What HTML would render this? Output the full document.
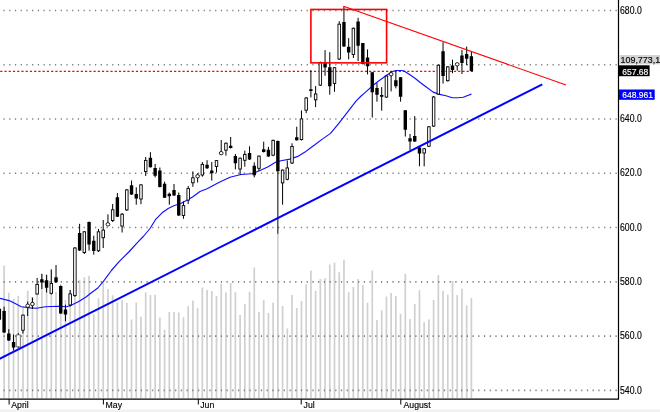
<!DOCTYPE html><html><head><meta charset="utf-8"><style>
html,body{margin:0;padding:0;background:#fff;width:660px;height:412px;overflow:hidden;}
#w{position:relative;width:660px;height:412px;background:#fff;}
svg{position:absolute;left:0;top:0;}
.t{font-family:"Liberation Sans",Arial,sans-serif;}
</style></head><body><div id="w">
<svg width="660" height="412" viewBox="0 0 660 412">
<rect x="0" y="409.5" width="660" height="3" fill="#f2f2f2"/>
<path d="M4.10 265.5V398.0 M8.82 292.7V398.0 M13.54 299.0V398.0 M18.26 295.8V398.0 M22.98 306.0V398.0 M27.70 290.8V398.0 M32.42 297.0V398.0 M37.14 294.0V398.0 M41.86 274.0V398.0 M46.58 274.0V398.0 M51.30 269.6V398.0 M56.02 292.0V398.0 M60.74 284.0V398.0 M65.46 300.0V398.0 M70.18 290.0V398.0 M74.90 297.0V398.0 M79.62 279.7V398.0 M84.34 277.2V398.0 M89.06 275.8V398.0 M93.78 314.3V398.0 M98.50 298.3V398.0 M103.22 282.3V398.0 M107.94 289.0V398.0 M112.66 295.2V398.0 M117.38 302.6V398.0 M122.10 300.3V398.0 M126.82 303.0V398.0 M131.54 319.5V398.0 M136.26 302.5V398.0 M140.98 316.8V398.0 M145.70 292.4V398.0 M150.42 295.0V398.0 M155.14 294.7V398.0 M159.86 317.5V398.0 M164.58 329.7V398.0 M169.30 312.0V398.0 M174.02 312.0V398.0 M178.74 312.4V398.0 M183.46 317.3V398.0 M188.18 306.2V398.0 M192.90 300.4V398.0 M197.62 308.2V398.0 M202.34 287.6V398.0 M207.06 290.1V398.0 M211.78 291.1V398.0 M216.50 295.9V398.0 M221.22 283.7V398.0 M225.94 292.6V398.0 M230.66 282.9V398.0 M235.38 292.2V398.0 M240.10 315.0V398.0 M244.82 304.0V398.0 M249.54 291.7V398.0 M254.26 267.5V398.0 M258.98 312.1V398.0 M263.70 300.1V398.0 M268.42 313.1V398.0 M273.14 302.4V398.0 M277.86 234.0V398.0 M282.58 305.9V398.0 M287.30 328.6V398.0 M292.02 295.0V398.0 M296.74 307.9V398.0 M301.46 300.9V398.0 M306.18 284.6V398.0 M310.90 270.4V398.0 M315.62 290.8V398.0 M320.34 279.1V398.0 M325.06 278.2V398.0 M329.78 264.6V398.0 M334.50 262.6V398.0 M339.22 272.3V398.0 M343.94 259.7V398.0 M348.66 292.3V398.0 M353.38 286.9V398.0 M358.10 279.1V398.0 M362.82 285.0V398.0 M367.54 302.8V398.0 M372.26 270.4V398.0 M376.98 319.9V398.0 M381.70 310.2V398.0 M386.42 296.6V398.0 M391.14 293.1V398.0 M395.86 296.0V398.0 M400.58 313.7V398.0 M405.30 273.7V398.0 M410.02 318.9V398.0 M414.74 304.0V398.0 M419.46 290.2V398.0 M424.18 322.2V398.0 M428.90 319.5V398.0 M433.62 300.1V398.0 M438.34 274.9V398.0 M443.06 290.8V398.0 M447.78 294.7V398.0 M452.50 281.0V398.0 M457.22 295.0V398.0 M461.94 288.8V398.0 M466.66 305.6V398.0 M471.38 297.9V398.0" stroke="#d0d0d0" stroke-width="1.7" fill="none"/>
<path d="M3.50 9.65h1.2v1.6h-1.2zM9.22 9.65h1.2v1.6h-1.2zM14.94 9.65h1.2v1.6h-1.2zM20.66 9.65h1.2v1.6h-1.2zM26.38 9.65h1.2v1.6h-1.2zM32.10 9.65h1.2v1.6h-1.2zM37.82 9.65h1.2v1.6h-1.2zM43.54 9.65h1.2v1.6h-1.2zM49.26 9.65h1.2v1.6h-1.2zM54.98 9.65h1.2v1.6h-1.2zM60.70 9.65h1.2v1.6h-1.2zM66.42 9.65h1.2v1.6h-1.2zM72.14 9.65h1.2v1.6h-1.2zM77.85 9.65h1.2v1.6h-1.2zM83.57 9.65h1.2v1.6h-1.2zM89.29 9.65h1.2v1.6h-1.2zM95.01 9.65h1.2v1.6h-1.2zM100.73 9.65h1.2v1.6h-1.2zM106.45 9.65h1.2v1.6h-1.2zM112.17 9.65h1.2v1.6h-1.2zM117.89 9.65h1.2v1.6h-1.2zM123.61 9.65h1.2v1.6h-1.2zM129.33 9.65h1.2v1.6h-1.2zM135.05 9.65h1.2v1.6h-1.2zM140.77 9.65h1.2v1.6h-1.2zM146.49 9.65h1.2v1.6h-1.2zM152.21 9.65h1.2v1.6h-1.2zM157.93 9.65h1.2v1.6h-1.2zM163.65 9.65h1.2v1.6h-1.2zM169.37 9.65h1.2v1.6h-1.2zM175.09 9.65h1.2v1.6h-1.2zM180.81 9.65h1.2v1.6h-1.2zM186.53 9.65h1.2v1.6h-1.2zM192.25 9.65h1.2v1.6h-1.2zM197.97 9.65h1.2v1.6h-1.2zM203.69 9.65h1.2v1.6h-1.2zM209.41 9.65h1.2v1.6h-1.2zM215.13 9.65h1.2v1.6h-1.2zM220.84 9.65h1.2v1.6h-1.2zM226.56 9.65h1.2v1.6h-1.2zM232.28 9.65h1.2v1.6h-1.2zM238.00 9.65h1.2v1.6h-1.2zM243.72 9.65h1.2v1.6h-1.2zM249.44 9.65h1.2v1.6h-1.2zM255.16 9.65h1.2v1.6h-1.2zM260.88 9.65h1.2v1.6h-1.2zM266.60 9.65h1.2v1.6h-1.2zM272.32 9.65h1.2v1.6h-1.2zM278.04 9.65h1.2v1.6h-1.2zM283.76 9.65h1.2v1.6h-1.2zM289.48 9.65h1.2v1.6h-1.2zM295.20 9.65h1.2v1.6h-1.2zM300.92 9.65h1.2v1.6h-1.2zM306.64 9.65h1.2v1.6h-1.2zM312.36 9.65h1.2v1.6h-1.2zM318.08 9.65h1.2v1.6h-1.2zM323.80 9.65h1.2v1.6h-1.2zM329.52 9.65h1.2v1.6h-1.2zM335.24 9.65h1.2v1.6h-1.2zM340.96 9.65h1.2v1.6h-1.2zM346.68 9.65h1.2v1.6h-1.2zM352.40 9.65h1.2v1.6h-1.2zM358.12 9.65h1.2v1.6h-1.2zM363.83 9.65h1.2v1.6h-1.2zM369.55 9.65h1.2v1.6h-1.2zM375.27 9.65h1.2v1.6h-1.2zM380.99 9.65h1.2v1.6h-1.2zM386.71 9.65h1.2v1.6h-1.2zM392.43 9.65h1.2v1.6h-1.2zM398.15 9.65h1.2v1.6h-1.2zM403.87 9.65h1.2v1.6h-1.2zM409.59 9.65h1.2v1.6h-1.2zM415.31 9.65h1.2v1.6h-1.2zM421.03 9.65h1.2v1.6h-1.2zM426.75 9.65h1.2v1.6h-1.2zM432.47 9.65h1.2v1.6h-1.2zM438.19 9.65h1.2v1.6h-1.2zM443.91 9.65h1.2v1.6h-1.2zM449.63 9.65h1.2v1.6h-1.2zM455.35 9.65h1.2v1.6h-1.2zM461.07 9.65h1.2v1.6h-1.2zM466.79 9.65h1.2v1.6h-1.2zM472.51 9.65h1.2v1.6h-1.2zM478.23 9.65h1.2v1.6h-1.2zM483.95 9.65h1.2v1.6h-1.2zM489.67 9.65h1.2v1.6h-1.2zM495.39 9.65h1.2v1.6h-1.2zM501.11 9.65h1.2v1.6h-1.2zM506.82 9.65h1.2v1.6h-1.2zM512.54 9.65h1.2v1.6h-1.2zM518.26 9.65h1.2v1.6h-1.2zM523.98 9.65h1.2v1.6h-1.2zM529.70 9.65h1.2v1.6h-1.2zM535.42 9.65h1.2v1.6h-1.2zM541.14 9.65h1.2v1.6h-1.2zM546.86 9.65h1.2v1.6h-1.2zM552.58 9.65h1.2v1.6h-1.2zM558.30 9.65h1.2v1.6h-1.2zM564.02 9.65h1.2v1.6h-1.2zM569.74 9.65h1.2v1.6h-1.2zM575.46 9.65h1.2v1.6h-1.2zM581.18 9.65h1.2v1.6h-1.2zM586.90 9.65h1.2v1.6h-1.2zM592.62 9.65h1.2v1.6h-1.2zM598.34 9.65h1.2v1.6h-1.2zM604.06 9.65h1.2v1.6h-1.2zM609.78 9.65h1.2v1.6h-1.2zM615.50 9.65h1.2v1.6h-1.2zM3.50 63.93h1.2v1.6h-1.2zM9.22 63.93h1.2v1.6h-1.2zM14.94 63.93h1.2v1.6h-1.2zM20.66 63.93h1.2v1.6h-1.2zM26.38 63.93h1.2v1.6h-1.2zM32.10 63.93h1.2v1.6h-1.2zM37.82 63.93h1.2v1.6h-1.2zM43.54 63.93h1.2v1.6h-1.2zM49.26 63.93h1.2v1.6h-1.2zM54.98 63.93h1.2v1.6h-1.2zM60.70 63.93h1.2v1.6h-1.2zM66.42 63.93h1.2v1.6h-1.2zM72.14 63.93h1.2v1.6h-1.2zM77.85 63.93h1.2v1.6h-1.2zM83.57 63.93h1.2v1.6h-1.2zM89.29 63.93h1.2v1.6h-1.2zM95.01 63.93h1.2v1.6h-1.2zM100.73 63.93h1.2v1.6h-1.2zM106.45 63.93h1.2v1.6h-1.2zM112.17 63.93h1.2v1.6h-1.2zM117.89 63.93h1.2v1.6h-1.2zM123.61 63.93h1.2v1.6h-1.2zM129.33 63.93h1.2v1.6h-1.2zM135.05 63.93h1.2v1.6h-1.2zM140.77 63.93h1.2v1.6h-1.2zM146.49 63.93h1.2v1.6h-1.2zM152.21 63.93h1.2v1.6h-1.2zM157.93 63.93h1.2v1.6h-1.2zM163.65 63.93h1.2v1.6h-1.2zM169.37 63.93h1.2v1.6h-1.2zM175.09 63.93h1.2v1.6h-1.2zM180.81 63.93h1.2v1.6h-1.2zM186.53 63.93h1.2v1.6h-1.2zM192.25 63.93h1.2v1.6h-1.2zM197.97 63.93h1.2v1.6h-1.2zM203.69 63.93h1.2v1.6h-1.2zM209.41 63.93h1.2v1.6h-1.2zM215.13 63.93h1.2v1.6h-1.2zM220.84 63.93h1.2v1.6h-1.2zM226.56 63.93h1.2v1.6h-1.2zM232.28 63.93h1.2v1.6h-1.2zM238.00 63.93h1.2v1.6h-1.2zM243.72 63.93h1.2v1.6h-1.2zM249.44 63.93h1.2v1.6h-1.2zM255.16 63.93h1.2v1.6h-1.2zM260.88 63.93h1.2v1.6h-1.2zM266.60 63.93h1.2v1.6h-1.2zM272.32 63.93h1.2v1.6h-1.2zM278.04 63.93h1.2v1.6h-1.2zM283.76 63.93h1.2v1.6h-1.2zM289.48 63.93h1.2v1.6h-1.2zM295.20 63.93h1.2v1.6h-1.2zM300.92 63.93h1.2v1.6h-1.2zM306.64 63.93h1.2v1.6h-1.2zM312.36 63.93h1.2v1.6h-1.2zM318.08 63.93h1.2v1.6h-1.2zM323.80 63.93h1.2v1.6h-1.2zM329.52 63.93h1.2v1.6h-1.2zM335.24 63.93h1.2v1.6h-1.2zM340.96 63.93h1.2v1.6h-1.2zM346.68 63.93h1.2v1.6h-1.2zM352.40 63.93h1.2v1.6h-1.2zM358.12 63.93h1.2v1.6h-1.2zM363.83 63.93h1.2v1.6h-1.2zM369.55 63.93h1.2v1.6h-1.2zM375.27 63.93h1.2v1.6h-1.2zM380.99 63.93h1.2v1.6h-1.2zM386.71 63.93h1.2v1.6h-1.2zM392.43 63.93h1.2v1.6h-1.2zM398.15 63.93h1.2v1.6h-1.2zM403.87 63.93h1.2v1.6h-1.2zM409.59 63.93h1.2v1.6h-1.2zM415.31 63.93h1.2v1.6h-1.2zM421.03 63.93h1.2v1.6h-1.2zM426.75 63.93h1.2v1.6h-1.2zM432.47 63.93h1.2v1.6h-1.2zM438.19 63.93h1.2v1.6h-1.2zM443.91 63.93h1.2v1.6h-1.2zM449.63 63.93h1.2v1.6h-1.2zM455.35 63.93h1.2v1.6h-1.2zM461.07 63.93h1.2v1.6h-1.2zM466.79 63.93h1.2v1.6h-1.2zM472.51 63.93h1.2v1.6h-1.2zM478.23 63.93h1.2v1.6h-1.2zM483.95 63.93h1.2v1.6h-1.2zM489.67 63.93h1.2v1.6h-1.2zM495.39 63.93h1.2v1.6h-1.2zM501.11 63.93h1.2v1.6h-1.2zM506.82 63.93h1.2v1.6h-1.2zM512.54 63.93h1.2v1.6h-1.2zM518.26 63.93h1.2v1.6h-1.2zM523.98 63.93h1.2v1.6h-1.2zM529.70 63.93h1.2v1.6h-1.2zM535.42 63.93h1.2v1.6h-1.2zM541.14 63.93h1.2v1.6h-1.2zM546.86 63.93h1.2v1.6h-1.2zM552.58 63.93h1.2v1.6h-1.2zM558.30 63.93h1.2v1.6h-1.2zM564.02 63.93h1.2v1.6h-1.2zM569.74 63.93h1.2v1.6h-1.2zM575.46 63.93h1.2v1.6h-1.2zM581.18 63.93h1.2v1.6h-1.2zM586.90 63.93h1.2v1.6h-1.2zM592.62 63.93h1.2v1.6h-1.2zM598.34 63.93h1.2v1.6h-1.2zM604.06 63.93h1.2v1.6h-1.2zM609.78 63.93h1.2v1.6h-1.2zM615.50 63.93h1.2v1.6h-1.2zM3.50 118.21h1.2v1.6h-1.2zM9.22 118.21h1.2v1.6h-1.2zM14.94 118.21h1.2v1.6h-1.2zM20.66 118.21h1.2v1.6h-1.2zM26.38 118.21h1.2v1.6h-1.2zM32.10 118.21h1.2v1.6h-1.2zM37.82 118.21h1.2v1.6h-1.2zM43.54 118.21h1.2v1.6h-1.2zM49.26 118.21h1.2v1.6h-1.2zM54.98 118.21h1.2v1.6h-1.2zM60.70 118.21h1.2v1.6h-1.2zM66.42 118.21h1.2v1.6h-1.2zM72.14 118.21h1.2v1.6h-1.2zM77.85 118.21h1.2v1.6h-1.2zM83.57 118.21h1.2v1.6h-1.2zM89.29 118.21h1.2v1.6h-1.2zM95.01 118.21h1.2v1.6h-1.2zM100.73 118.21h1.2v1.6h-1.2zM106.45 118.21h1.2v1.6h-1.2zM112.17 118.21h1.2v1.6h-1.2zM117.89 118.21h1.2v1.6h-1.2zM123.61 118.21h1.2v1.6h-1.2zM129.33 118.21h1.2v1.6h-1.2zM135.05 118.21h1.2v1.6h-1.2zM140.77 118.21h1.2v1.6h-1.2zM146.49 118.21h1.2v1.6h-1.2zM152.21 118.21h1.2v1.6h-1.2zM157.93 118.21h1.2v1.6h-1.2zM163.65 118.21h1.2v1.6h-1.2zM169.37 118.21h1.2v1.6h-1.2zM175.09 118.21h1.2v1.6h-1.2zM180.81 118.21h1.2v1.6h-1.2zM186.53 118.21h1.2v1.6h-1.2zM192.25 118.21h1.2v1.6h-1.2zM197.97 118.21h1.2v1.6h-1.2zM203.69 118.21h1.2v1.6h-1.2zM209.41 118.21h1.2v1.6h-1.2zM215.13 118.21h1.2v1.6h-1.2zM220.84 118.21h1.2v1.6h-1.2zM226.56 118.21h1.2v1.6h-1.2zM232.28 118.21h1.2v1.6h-1.2zM238.00 118.21h1.2v1.6h-1.2zM243.72 118.21h1.2v1.6h-1.2zM249.44 118.21h1.2v1.6h-1.2zM255.16 118.21h1.2v1.6h-1.2zM260.88 118.21h1.2v1.6h-1.2zM266.60 118.21h1.2v1.6h-1.2zM272.32 118.21h1.2v1.6h-1.2zM278.04 118.21h1.2v1.6h-1.2zM283.76 118.21h1.2v1.6h-1.2zM289.48 118.21h1.2v1.6h-1.2zM295.20 118.21h1.2v1.6h-1.2zM300.92 118.21h1.2v1.6h-1.2zM306.64 118.21h1.2v1.6h-1.2zM312.36 118.21h1.2v1.6h-1.2zM318.08 118.21h1.2v1.6h-1.2zM323.80 118.21h1.2v1.6h-1.2zM329.52 118.21h1.2v1.6h-1.2zM335.24 118.21h1.2v1.6h-1.2zM340.96 118.21h1.2v1.6h-1.2zM346.68 118.21h1.2v1.6h-1.2zM352.40 118.21h1.2v1.6h-1.2zM358.12 118.21h1.2v1.6h-1.2zM363.83 118.21h1.2v1.6h-1.2zM369.55 118.21h1.2v1.6h-1.2zM375.27 118.21h1.2v1.6h-1.2zM380.99 118.21h1.2v1.6h-1.2zM386.71 118.21h1.2v1.6h-1.2zM392.43 118.21h1.2v1.6h-1.2zM398.15 118.21h1.2v1.6h-1.2zM403.87 118.21h1.2v1.6h-1.2zM409.59 118.21h1.2v1.6h-1.2zM415.31 118.21h1.2v1.6h-1.2zM421.03 118.21h1.2v1.6h-1.2zM426.75 118.21h1.2v1.6h-1.2zM432.47 118.21h1.2v1.6h-1.2zM438.19 118.21h1.2v1.6h-1.2zM443.91 118.21h1.2v1.6h-1.2zM449.63 118.21h1.2v1.6h-1.2zM455.35 118.21h1.2v1.6h-1.2zM461.07 118.21h1.2v1.6h-1.2zM466.79 118.21h1.2v1.6h-1.2zM472.51 118.21h1.2v1.6h-1.2zM478.23 118.21h1.2v1.6h-1.2zM483.95 118.21h1.2v1.6h-1.2zM489.67 118.21h1.2v1.6h-1.2zM495.39 118.21h1.2v1.6h-1.2zM501.11 118.21h1.2v1.6h-1.2zM506.82 118.21h1.2v1.6h-1.2zM512.54 118.21h1.2v1.6h-1.2zM518.26 118.21h1.2v1.6h-1.2zM523.98 118.21h1.2v1.6h-1.2zM529.70 118.21h1.2v1.6h-1.2zM535.42 118.21h1.2v1.6h-1.2zM541.14 118.21h1.2v1.6h-1.2zM546.86 118.21h1.2v1.6h-1.2zM552.58 118.21h1.2v1.6h-1.2zM558.30 118.21h1.2v1.6h-1.2zM564.02 118.21h1.2v1.6h-1.2zM569.74 118.21h1.2v1.6h-1.2zM575.46 118.21h1.2v1.6h-1.2zM581.18 118.21h1.2v1.6h-1.2zM586.90 118.21h1.2v1.6h-1.2zM592.62 118.21h1.2v1.6h-1.2zM598.34 118.21h1.2v1.6h-1.2zM604.06 118.21h1.2v1.6h-1.2zM609.78 118.21h1.2v1.6h-1.2zM615.50 118.21h1.2v1.6h-1.2zM3.50 172.49h1.2v1.6h-1.2zM9.22 172.49h1.2v1.6h-1.2zM14.94 172.49h1.2v1.6h-1.2zM20.66 172.49h1.2v1.6h-1.2zM26.38 172.49h1.2v1.6h-1.2zM32.10 172.49h1.2v1.6h-1.2zM37.82 172.49h1.2v1.6h-1.2zM43.54 172.49h1.2v1.6h-1.2zM49.26 172.49h1.2v1.6h-1.2zM54.98 172.49h1.2v1.6h-1.2zM60.70 172.49h1.2v1.6h-1.2zM66.42 172.49h1.2v1.6h-1.2zM72.14 172.49h1.2v1.6h-1.2zM77.85 172.49h1.2v1.6h-1.2zM83.57 172.49h1.2v1.6h-1.2zM89.29 172.49h1.2v1.6h-1.2zM95.01 172.49h1.2v1.6h-1.2zM100.73 172.49h1.2v1.6h-1.2zM106.45 172.49h1.2v1.6h-1.2zM112.17 172.49h1.2v1.6h-1.2zM117.89 172.49h1.2v1.6h-1.2zM123.61 172.49h1.2v1.6h-1.2zM129.33 172.49h1.2v1.6h-1.2zM135.05 172.49h1.2v1.6h-1.2zM140.77 172.49h1.2v1.6h-1.2zM146.49 172.49h1.2v1.6h-1.2zM152.21 172.49h1.2v1.6h-1.2zM157.93 172.49h1.2v1.6h-1.2zM163.65 172.49h1.2v1.6h-1.2zM169.37 172.49h1.2v1.6h-1.2zM175.09 172.49h1.2v1.6h-1.2zM180.81 172.49h1.2v1.6h-1.2zM186.53 172.49h1.2v1.6h-1.2zM192.25 172.49h1.2v1.6h-1.2zM197.97 172.49h1.2v1.6h-1.2zM203.69 172.49h1.2v1.6h-1.2zM209.41 172.49h1.2v1.6h-1.2zM215.13 172.49h1.2v1.6h-1.2zM220.84 172.49h1.2v1.6h-1.2zM226.56 172.49h1.2v1.6h-1.2zM232.28 172.49h1.2v1.6h-1.2zM238.00 172.49h1.2v1.6h-1.2zM243.72 172.49h1.2v1.6h-1.2zM249.44 172.49h1.2v1.6h-1.2zM255.16 172.49h1.2v1.6h-1.2zM260.88 172.49h1.2v1.6h-1.2zM266.60 172.49h1.2v1.6h-1.2zM272.32 172.49h1.2v1.6h-1.2zM278.04 172.49h1.2v1.6h-1.2zM283.76 172.49h1.2v1.6h-1.2zM289.48 172.49h1.2v1.6h-1.2zM295.20 172.49h1.2v1.6h-1.2zM300.92 172.49h1.2v1.6h-1.2zM306.64 172.49h1.2v1.6h-1.2zM312.36 172.49h1.2v1.6h-1.2zM318.08 172.49h1.2v1.6h-1.2zM323.80 172.49h1.2v1.6h-1.2zM329.52 172.49h1.2v1.6h-1.2zM335.24 172.49h1.2v1.6h-1.2zM340.96 172.49h1.2v1.6h-1.2zM346.68 172.49h1.2v1.6h-1.2zM352.40 172.49h1.2v1.6h-1.2zM358.12 172.49h1.2v1.6h-1.2zM363.83 172.49h1.2v1.6h-1.2zM369.55 172.49h1.2v1.6h-1.2zM375.27 172.49h1.2v1.6h-1.2zM380.99 172.49h1.2v1.6h-1.2zM386.71 172.49h1.2v1.6h-1.2zM392.43 172.49h1.2v1.6h-1.2zM398.15 172.49h1.2v1.6h-1.2zM403.87 172.49h1.2v1.6h-1.2zM409.59 172.49h1.2v1.6h-1.2zM415.31 172.49h1.2v1.6h-1.2zM421.03 172.49h1.2v1.6h-1.2zM426.75 172.49h1.2v1.6h-1.2zM432.47 172.49h1.2v1.6h-1.2zM438.19 172.49h1.2v1.6h-1.2zM443.91 172.49h1.2v1.6h-1.2zM449.63 172.49h1.2v1.6h-1.2zM455.35 172.49h1.2v1.6h-1.2zM461.07 172.49h1.2v1.6h-1.2zM466.79 172.49h1.2v1.6h-1.2zM472.51 172.49h1.2v1.6h-1.2zM478.23 172.49h1.2v1.6h-1.2zM483.95 172.49h1.2v1.6h-1.2zM489.67 172.49h1.2v1.6h-1.2zM495.39 172.49h1.2v1.6h-1.2zM501.11 172.49h1.2v1.6h-1.2zM506.82 172.49h1.2v1.6h-1.2zM512.54 172.49h1.2v1.6h-1.2zM518.26 172.49h1.2v1.6h-1.2zM523.98 172.49h1.2v1.6h-1.2zM529.70 172.49h1.2v1.6h-1.2zM535.42 172.49h1.2v1.6h-1.2zM541.14 172.49h1.2v1.6h-1.2zM546.86 172.49h1.2v1.6h-1.2zM552.58 172.49h1.2v1.6h-1.2zM558.30 172.49h1.2v1.6h-1.2zM564.02 172.49h1.2v1.6h-1.2zM569.74 172.49h1.2v1.6h-1.2zM575.46 172.49h1.2v1.6h-1.2zM581.18 172.49h1.2v1.6h-1.2zM586.90 172.49h1.2v1.6h-1.2zM592.62 172.49h1.2v1.6h-1.2zM598.34 172.49h1.2v1.6h-1.2zM604.06 172.49h1.2v1.6h-1.2zM609.78 172.49h1.2v1.6h-1.2zM615.50 172.49h1.2v1.6h-1.2zM3.50 226.77h1.2v1.6h-1.2zM9.22 226.77h1.2v1.6h-1.2zM14.94 226.77h1.2v1.6h-1.2zM20.66 226.77h1.2v1.6h-1.2zM26.38 226.77h1.2v1.6h-1.2zM32.10 226.77h1.2v1.6h-1.2zM37.82 226.77h1.2v1.6h-1.2zM43.54 226.77h1.2v1.6h-1.2zM49.26 226.77h1.2v1.6h-1.2zM54.98 226.77h1.2v1.6h-1.2zM60.70 226.77h1.2v1.6h-1.2zM66.42 226.77h1.2v1.6h-1.2zM72.14 226.77h1.2v1.6h-1.2zM77.85 226.77h1.2v1.6h-1.2zM83.57 226.77h1.2v1.6h-1.2zM89.29 226.77h1.2v1.6h-1.2zM95.01 226.77h1.2v1.6h-1.2zM100.73 226.77h1.2v1.6h-1.2zM106.45 226.77h1.2v1.6h-1.2zM112.17 226.77h1.2v1.6h-1.2zM117.89 226.77h1.2v1.6h-1.2zM123.61 226.77h1.2v1.6h-1.2zM129.33 226.77h1.2v1.6h-1.2zM135.05 226.77h1.2v1.6h-1.2zM140.77 226.77h1.2v1.6h-1.2zM146.49 226.77h1.2v1.6h-1.2zM152.21 226.77h1.2v1.6h-1.2zM157.93 226.77h1.2v1.6h-1.2zM163.65 226.77h1.2v1.6h-1.2zM169.37 226.77h1.2v1.6h-1.2zM175.09 226.77h1.2v1.6h-1.2zM180.81 226.77h1.2v1.6h-1.2zM186.53 226.77h1.2v1.6h-1.2zM192.25 226.77h1.2v1.6h-1.2zM197.97 226.77h1.2v1.6h-1.2zM203.69 226.77h1.2v1.6h-1.2zM209.41 226.77h1.2v1.6h-1.2zM215.13 226.77h1.2v1.6h-1.2zM220.84 226.77h1.2v1.6h-1.2zM226.56 226.77h1.2v1.6h-1.2zM232.28 226.77h1.2v1.6h-1.2zM238.00 226.77h1.2v1.6h-1.2zM243.72 226.77h1.2v1.6h-1.2zM249.44 226.77h1.2v1.6h-1.2zM255.16 226.77h1.2v1.6h-1.2zM260.88 226.77h1.2v1.6h-1.2zM266.60 226.77h1.2v1.6h-1.2zM272.32 226.77h1.2v1.6h-1.2zM278.04 226.77h1.2v1.6h-1.2zM283.76 226.77h1.2v1.6h-1.2zM289.48 226.77h1.2v1.6h-1.2zM295.20 226.77h1.2v1.6h-1.2zM300.92 226.77h1.2v1.6h-1.2zM306.64 226.77h1.2v1.6h-1.2zM312.36 226.77h1.2v1.6h-1.2zM318.08 226.77h1.2v1.6h-1.2zM323.80 226.77h1.2v1.6h-1.2zM329.52 226.77h1.2v1.6h-1.2zM335.24 226.77h1.2v1.6h-1.2zM340.96 226.77h1.2v1.6h-1.2zM346.68 226.77h1.2v1.6h-1.2zM352.40 226.77h1.2v1.6h-1.2zM358.12 226.77h1.2v1.6h-1.2zM363.83 226.77h1.2v1.6h-1.2zM369.55 226.77h1.2v1.6h-1.2zM375.27 226.77h1.2v1.6h-1.2zM380.99 226.77h1.2v1.6h-1.2zM386.71 226.77h1.2v1.6h-1.2zM392.43 226.77h1.2v1.6h-1.2zM398.15 226.77h1.2v1.6h-1.2zM403.87 226.77h1.2v1.6h-1.2zM409.59 226.77h1.2v1.6h-1.2zM415.31 226.77h1.2v1.6h-1.2zM421.03 226.77h1.2v1.6h-1.2zM426.75 226.77h1.2v1.6h-1.2zM432.47 226.77h1.2v1.6h-1.2zM438.19 226.77h1.2v1.6h-1.2zM443.91 226.77h1.2v1.6h-1.2zM449.63 226.77h1.2v1.6h-1.2zM455.35 226.77h1.2v1.6h-1.2zM461.07 226.77h1.2v1.6h-1.2zM466.79 226.77h1.2v1.6h-1.2zM472.51 226.77h1.2v1.6h-1.2zM478.23 226.77h1.2v1.6h-1.2zM483.95 226.77h1.2v1.6h-1.2zM489.67 226.77h1.2v1.6h-1.2zM495.39 226.77h1.2v1.6h-1.2zM501.11 226.77h1.2v1.6h-1.2zM506.82 226.77h1.2v1.6h-1.2zM512.54 226.77h1.2v1.6h-1.2zM518.26 226.77h1.2v1.6h-1.2zM523.98 226.77h1.2v1.6h-1.2zM529.70 226.77h1.2v1.6h-1.2zM535.42 226.77h1.2v1.6h-1.2zM541.14 226.77h1.2v1.6h-1.2zM546.86 226.77h1.2v1.6h-1.2zM552.58 226.77h1.2v1.6h-1.2zM558.30 226.77h1.2v1.6h-1.2zM564.02 226.77h1.2v1.6h-1.2zM569.74 226.77h1.2v1.6h-1.2zM575.46 226.77h1.2v1.6h-1.2zM581.18 226.77h1.2v1.6h-1.2zM586.90 226.77h1.2v1.6h-1.2zM592.62 226.77h1.2v1.6h-1.2zM598.34 226.77h1.2v1.6h-1.2zM604.06 226.77h1.2v1.6h-1.2zM609.78 226.77h1.2v1.6h-1.2zM615.50 226.77h1.2v1.6h-1.2zM3.50 281.05h1.2v1.6h-1.2zM9.22 281.05h1.2v1.6h-1.2zM14.94 281.05h1.2v1.6h-1.2zM20.66 281.05h1.2v1.6h-1.2zM26.38 281.05h1.2v1.6h-1.2zM32.10 281.05h1.2v1.6h-1.2zM37.82 281.05h1.2v1.6h-1.2zM43.54 281.05h1.2v1.6h-1.2zM49.26 281.05h1.2v1.6h-1.2zM54.98 281.05h1.2v1.6h-1.2zM60.70 281.05h1.2v1.6h-1.2zM66.42 281.05h1.2v1.6h-1.2zM72.14 281.05h1.2v1.6h-1.2zM77.85 281.05h1.2v1.6h-1.2zM83.57 281.05h1.2v1.6h-1.2zM89.29 281.05h1.2v1.6h-1.2zM95.01 281.05h1.2v1.6h-1.2zM100.73 281.05h1.2v1.6h-1.2zM106.45 281.05h1.2v1.6h-1.2zM112.17 281.05h1.2v1.6h-1.2zM117.89 281.05h1.2v1.6h-1.2zM123.61 281.05h1.2v1.6h-1.2zM129.33 281.05h1.2v1.6h-1.2zM135.05 281.05h1.2v1.6h-1.2zM140.77 281.05h1.2v1.6h-1.2zM146.49 281.05h1.2v1.6h-1.2zM152.21 281.05h1.2v1.6h-1.2zM157.93 281.05h1.2v1.6h-1.2zM163.65 281.05h1.2v1.6h-1.2zM169.37 281.05h1.2v1.6h-1.2zM175.09 281.05h1.2v1.6h-1.2zM180.81 281.05h1.2v1.6h-1.2zM186.53 281.05h1.2v1.6h-1.2zM192.25 281.05h1.2v1.6h-1.2zM197.97 281.05h1.2v1.6h-1.2zM203.69 281.05h1.2v1.6h-1.2zM209.41 281.05h1.2v1.6h-1.2zM215.13 281.05h1.2v1.6h-1.2zM220.84 281.05h1.2v1.6h-1.2zM226.56 281.05h1.2v1.6h-1.2zM232.28 281.05h1.2v1.6h-1.2zM238.00 281.05h1.2v1.6h-1.2zM243.72 281.05h1.2v1.6h-1.2zM249.44 281.05h1.2v1.6h-1.2zM255.16 281.05h1.2v1.6h-1.2zM260.88 281.05h1.2v1.6h-1.2zM266.60 281.05h1.2v1.6h-1.2zM272.32 281.05h1.2v1.6h-1.2zM278.04 281.05h1.2v1.6h-1.2zM283.76 281.05h1.2v1.6h-1.2zM289.48 281.05h1.2v1.6h-1.2zM295.20 281.05h1.2v1.6h-1.2zM300.92 281.05h1.2v1.6h-1.2zM306.64 281.05h1.2v1.6h-1.2zM312.36 281.05h1.2v1.6h-1.2zM318.08 281.05h1.2v1.6h-1.2zM323.80 281.05h1.2v1.6h-1.2zM329.52 281.05h1.2v1.6h-1.2zM335.24 281.05h1.2v1.6h-1.2zM340.96 281.05h1.2v1.6h-1.2zM346.68 281.05h1.2v1.6h-1.2zM352.40 281.05h1.2v1.6h-1.2zM358.12 281.05h1.2v1.6h-1.2zM363.83 281.05h1.2v1.6h-1.2zM369.55 281.05h1.2v1.6h-1.2zM375.27 281.05h1.2v1.6h-1.2zM380.99 281.05h1.2v1.6h-1.2zM386.71 281.05h1.2v1.6h-1.2zM392.43 281.05h1.2v1.6h-1.2zM398.15 281.05h1.2v1.6h-1.2zM403.87 281.05h1.2v1.6h-1.2zM409.59 281.05h1.2v1.6h-1.2zM415.31 281.05h1.2v1.6h-1.2zM421.03 281.05h1.2v1.6h-1.2zM426.75 281.05h1.2v1.6h-1.2zM432.47 281.05h1.2v1.6h-1.2zM438.19 281.05h1.2v1.6h-1.2zM443.91 281.05h1.2v1.6h-1.2zM449.63 281.05h1.2v1.6h-1.2zM455.35 281.05h1.2v1.6h-1.2zM461.07 281.05h1.2v1.6h-1.2zM466.79 281.05h1.2v1.6h-1.2zM472.51 281.05h1.2v1.6h-1.2zM478.23 281.05h1.2v1.6h-1.2zM483.95 281.05h1.2v1.6h-1.2zM489.67 281.05h1.2v1.6h-1.2zM495.39 281.05h1.2v1.6h-1.2zM501.11 281.05h1.2v1.6h-1.2zM506.82 281.05h1.2v1.6h-1.2zM512.54 281.05h1.2v1.6h-1.2zM518.26 281.05h1.2v1.6h-1.2zM523.98 281.05h1.2v1.6h-1.2zM529.70 281.05h1.2v1.6h-1.2zM535.42 281.05h1.2v1.6h-1.2zM541.14 281.05h1.2v1.6h-1.2zM546.86 281.05h1.2v1.6h-1.2zM552.58 281.05h1.2v1.6h-1.2zM558.30 281.05h1.2v1.6h-1.2zM564.02 281.05h1.2v1.6h-1.2zM569.74 281.05h1.2v1.6h-1.2zM575.46 281.05h1.2v1.6h-1.2zM581.18 281.05h1.2v1.6h-1.2zM586.90 281.05h1.2v1.6h-1.2zM592.62 281.05h1.2v1.6h-1.2zM598.34 281.05h1.2v1.6h-1.2zM604.06 281.05h1.2v1.6h-1.2zM609.78 281.05h1.2v1.6h-1.2zM615.50 281.05h1.2v1.6h-1.2zM3.50 335.33h1.2v1.6h-1.2zM9.22 335.33h1.2v1.6h-1.2zM14.94 335.33h1.2v1.6h-1.2zM20.66 335.33h1.2v1.6h-1.2zM26.38 335.33h1.2v1.6h-1.2zM32.10 335.33h1.2v1.6h-1.2zM37.82 335.33h1.2v1.6h-1.2zM43.54 335.33h1.2v1.6h-1.2zM49.26 335.33h1.2v1.6h-1.2zM54.98 335.33h1.2v1.6h-1.2zM60.70 335.33h1.2v1.6h-1.2zM66.42 335.33h1.2v1.6h-1.2zM72.14 335.33h1.2v1.6h-1.2zM77.85 335.33h1.2v1.6h-1.2zM83.57 335.33h1.2v1.6h-1.2zM89.29 335.33h1.2v1.6h-1.2zM95.01 335.33h1.2v1.6h-1.2zM100.73 335.33h1.2v1.6h-1.2zM106.45 335.33h1.2v1.6h-1.2zM112.17 335.33h1.2v1.6h-1.2zM117.89 335.33h1.2v1.6h-1.2zM123.61 335.33h1.2v1.6h-1.2zM129.33 335.33h1.2v1.6h-1.2zM135.05 335.33h1.2v1.6h-1.2zM140.77 335.33h1.2v1.6h-1.2zM146.49 335.33h1.2v1.6h-1.2zM152.21 335.33h1.2v1.6h-1.2zM157.93 335.33h1.2v1.6h-1.2zM163.65 335.33h1.2v1.6h-1.2zM169.37 335.33h1.2v1.6h-1.2zM175.09 335.33h1.2v1.6h-1.2zM180.81 335.33h1.2v1.6h-1.2zM186.53 335.33h1.2v1.6h-1.2zM192.25 335.33h1.2v1.6h-1.2zM197.97 335.33h1.2v1.6h-1.2zM203.69 335.33h1.2v1.6h-1.2zM209.41 335.33h1.2v1.6h-1.2zM215.13 335.33h1.2v1.6h-1.2zM220.84 335.33h1.2v1.6h-1.2zM226.56 335.33h1.2v1.6h-1.2zM232.28 335.33h1.2v1.6h-1.2zM238.00 335.33h1.2v1.6h-1.2zM243.72 335.33h1.2v1.6h-1.2zM249.44 335.33h1.2v1.6h-1.2zM255.16 335.33h1.2v1.6h-1.2zM260.88 335.33h1.2v1.6h-1.2zM266.60 335.33h1.2v1.6h-1.2zM272.32 335.33h1.2v1.6h-1.2zM278.04 335.33h1.2v1.6h-1.2zM283.76 335.33h1.2v1.6h-1.2zM289.48 335.33h1.2v1.6h-1.2zM295.20 335.33h1.2v1.6h-1.2zM300.92 335.33h1.2v1.6h-1.2zM306.64 335.33h1.2v1.6h-1.2zM312.36 335.33h1.2v1.6h-1.2zM318.08 335.33h1.2v1.6h-1.2zM323.80 335.33h1.2v1.6h-1.2zM329.52 335.33h1.2v1.6h-1.2zM335.24 335.33h1.2v1.6h-1.2zM340.96 335.33h1.2v1.6h-1.2zM346.68 335.33h1.2v1.6h-1.2zM352.40 335.33h1.2v1.6h-1.2zM358.12 335.33h1.2v1.6h-1.2zM363.83 335.33h1.2v1.6h-1.2zM369.55 335.33h1.2v1.6h-1.2zM375.27 335.33h1.2v1.6h-1.2zM380.99 335.33h1.2v1.6h-1.2zM386.71 335.33h1.2v1.6h-1.2zM392.43 335.33h1.2v1.6h-1.2zM398.15 335.33h1.2v1.6h-1.2zM403.87 335.33h1.2v1.6h-1.2zM409.59 335.33h1.2v1.6h-1.2zM415.31 335.33h1.2v1.6h-1.2zM421.03 335.33h1.2v1.6h-1.2zM426.75 335.33h1.2v1.6h-1.2zM432.47 335.33h1.2v1.6h-1.2zM438.19 335.33h1.2v1.6h-1.2zM443.91 335.33h1.2v1.6h-1.2zM449.63 335.33h1.2v1.6h-1.2zM455.35 335.33h1.2v1.6h-1.2zM461.07 335.33h1.2v1.6h-1.2zM466.79 335.33h1.2v1.6h-1.2zM472.51 335.33h1.2v1.6h-1.2zM478.23 335.33h1.2v1.6h-1.2zM483.95 335.33h1.2v1.6h-1.2zM489.67 335.33h1.2v1.6h-1.2zM495.39 335.33h1.2v1.6h-1.2zM501.11 335.33h1.2v1.6h-1.2zM506.82 335.33h1.2v1.6h-1.2zM512.54 335.33h1.2v1.6h-1.2zM518.26 335.33h1.2v1.6h-1.2zM523.98 335.33h1.2v1.6h-1.2zM529.70 335.33h1.2v1.6h-1.2zM535.42 335.33h1.2v1.6h-1.2zM541.14 335.33h1.2v1.6h-1.2zM546.86 335.33h1.2v1.6h-1.2zM552.58 335.33h1.2v1.6h-1.2zM558.30 335.33h1.2v1.6h-1.2zM564.02 335.33h1.2v1.6h-1.2zM569.74 335.33h1.2v1.6h-1.2zM575.46 335.33h1.2v1.6h-1.2zM581.18 335.33h1.2v1.6h-1.2zM586.90 335.33h1.2v1.6h-1.2zM592.62 335.33h1.2v1.6h-1.2zM598.34 335.33h1.2v1.6h-1.2zM604.06 335.33h1.2v1.6h-1.2zM609.78 335.33h1.2v1.6h-1.2zM615.50 335.33h1.2v1.6h-1.2zM3.50 389.61h1.2v1.6h-1.2zM9.22 389.61h1.2v1.6h-1.2zM14.94 389.61h1.2v1.6h-1.2zM20.66 389.61h1.2v1.6h-1.2zM26.38 389.61h1.2v1.6h-1.2zM32.10 389.61h1.2v1.6h-1.2zM37.82 389.61h1.2v1.6h-1.2zM43.54 389.61h1.2v1.6h-1.2zM49.26 389.61h1.2v1.6h-1.2zM54.98 389.61h1.2v1.6h-1.2zM60.70 389.61h1.2v1.6h-1.2zM66.42 389.61h1.2v1.6h-1.2zM72.14 389.61h1.2v1.6h-1.2zM77.85 389.61h1.2v1.6h-1.2zM83.57 389.61h1.2v1.6h-1.2zM89.29 389.61h1.2v1.6h-1.2zM95.01 389.61h1.2v1.6h-1.2zM100.73 389.61h1.2v1.6h-1.2zM106.45 389.61h1.2v1.6h-1.2zM112.17 389.61h1.2v1.6h-1.2zM117.89 389.61h1.2v1.6h-1.2zM123.61 389.61h1.2v1.6h-1.2zM129.33 389.61h1.2v1.6h-1.2zM135.05 389.61h1.2v1.6h-1.2zM140.77 389.61h1.2v1.6h-1.2zM146.49 389.61h1.2v1.6h-1.2zM152.21 389.61h1.2v1.6h-1.2zM157.93 389.61h1.2v1.6h-1.2zM163.65 389.61h1.2v1.6h-1.2zM169.37 389.61h1.2v1.6h-1.2zM175.09 389.61h1.2v1.6h-1.2zM180.81 389.61h1.2v1.6h-1.2zM186.53 389.61h1.2v1.6h-1.2zM192.25 389.61h1.2v1.6h-1.2zM197.97 389.61h1.2v1.6h-1.2zM203.69 389.61h1.2v1.6h-1.2zM209.41 389.61h1.2v1.6h-1.2zM215.13 389.61h1.2v1.6h-1.2zM220.84 389.61h1.2v1.6h-1.2zM226.56 389.61h1.2v1.6h-1.2zM232.28 389.61h1.2v1.6h-1.2zM238.00 389.61h1.2v1.6h-1.2zM243.72 389.61h1.2v1.6h-1.2zM249.44 389.61h1.2v1.6h-1.2zM255.16 389.61h1.2v1.6h-1.2zM260.88 389.61h1.2v1.6h-1.2zM266.60 389.61h1.2v1.6h-1.2zM272.32 389.61h1.2v1.6h-1.2zM278.04 389.61h1.2v1.6h-1.2zM283.76 389.61h1.2v1.6h-1.2zM289.48 389.61h1.2v1.6h-1.2zM295.20 389.61h1.2v1.6h-1.2zM300.92 389.61h1.2v1.6h-1.2zM306.64 389.61h1.2v1.6h-1.2zM312.36 389.61h1.2v1.6h-1.2zM318.08 389.61h1.2v1.6h-1.2zM323.80 389.61h1.2v1.6h-1.2zM329.52 389.61h1.2v1.6h-1.2zM335.24 389.61h1.2v1.6h-1.2zM340.96 389.61h1.2v1.6h-1.2zM346.68 389.61h1.2v1.6h-1.2zM352.40 389.61h1.2v1.6h-1.2zM358.12 389.61h1.2v1.6h-1.2zM363.83 389.61h1.2v1.6h-1.2zM369.55 389.61h1.2v1.6h-1.2zM375.27 389.61h1.2v1.6h-1.2zM380.99 389.61h1.2v1.6h-1.2zM386.71 389.61h1.2v1.6h-1.2zM392.43 389.61h1.2v1.6h-1.2zM398.15 389.61h1.2v1.6h-1.2zM403.87 389.61h1.2v1.6h-1.2zM409.59 389.61h1.2v1.6h-1.2zM415.31 389.61h1.2v1.6h-1.2zM421.03 389.61h1.2v1.6h-1.2zM426.75 389.61h1.2v1.6h-1.2zM432.47 389.61h1.2v1.6h-1.2zM438.19 389.61h1.2v1.6h-1.2zM443.91 389.61h1.2v1.6h-1.2zM449.63 389.61h1.2v1.6h-1.2zM455.35 389.61h1.2v1.6h-1.2zM461.07 389.61h1.2v1.6h-1.2zM466.79 389.61h1.2v1.6h-1.2zM472.51 389.61h1.2v1.6h-1.2zM478.23 389.61h1.2v1.6h-1.2zM483.95 389.61h1.2v1.6h-1.2zM489.67 389.61h1.2v1.6h-1.2zM495.39 389.61h1.2v1.6h-1.2zM501.11 389.61h1.2v1.6h-1.2zM506.82 389.61h1.2v1.6h-1.2zM512.54 389.61h1.2v1.6h-1.2zM518.26 389.61h1.2v1.6h-1.2zM523.98 389.61h1.2v1.6h-1.2zM529.70 389.61h1.2v1.6h-1.2zM535.42 389.61h1.2v1.6h-1.2zM541.14 389.61h1.2v1.6h-1.2zM546.86 389.61h1.2v1.6h-1.2zM552.58 389.61h1.2v1.6h-1.2zM558.30 389.61h1.2v1.6h-1.2zM564.02 389.61h1.2v1.6h-1.2zM569.74 389.61h1.2v1.6h-1.2zM575.46 389.61h1.2v1.6h-1.2zM581.18 389.61h1.2v1.6h-1.2zM586.90 389.61h1.2v1.6h-1.2zM592.62 389.61h1.2v1.6h-1.2zM598.34 389.61h1.2v1.6h-1.2zM604.06 389.61h1.2v1.6h-1.2zM609.78 389.61h1.2v1.6h-1.2zM615.50 389.61h1.2v1.6h-1.2z" fill="#7a7a7a"/>
<path d="M0.20 70.7h2.2v1.3h-2.2zM4.44 70.7h2.2v1.3h-2.2zM8.68 70.7h2.2v1.3h-2.2zM12.92 70.7h2.2v1.3h-2.2zM17.16 70.7h2.2v1.3h-2.2zM21.40 70.7h2.2v1.3h-2.2zM25.64 70.7h2.2v1.3h-2.2zM29.88 70.7h2.2v1.3h-2.2zM34.12 70.7h2.2v1.3h-2.2zM38.36 70.7h2.2v1.3h-2.2zM42.60 70.7h2.2v1.3h-2.2zM46.84 70.7h2.2v1.3h-2.2zM51.08 70.7h2.2v1.3h-2.2zM55.32 70.7h2.2v1.3h-2.2zM59.56 70.7h2.2v1.3h-2.2zM63.80 70.7h2.2v1.3h-2.2zM68.04 70.7h2.2v1.3h-2.2zM72.28 70.7h2.2v1.3h-2.2zM76.52 70.7h2.2v1.3h-2.2zM80.76 70.7h2.2v1.3h-2.2zM85.00 70.7h2.2v1.3h-2.2zM89.24 70.7h2.2v1.3h-2.2zM93.48 70.7h2.2v1.3h-2.2zM97.72 70.7h2.2v1.3h-2.2zM101.96 70.7h2.2v1.3h-2.2zM106.20 70.7h2.2v1.3h-2.2zM110.44 70.7h2.2v1.3h-2.2zM114.68 70.7h2.2v1.3h-2.2zM118.92 70.7h2.2v1.3h-2.2zM123.16 70.7h2.2v1.3h-2.2zM127.40 70.7h2.2v1.3h-2.2zM131.64 70.7h2.2v1.3h-2.2zM135.88 70.7h2.2v1.3h-2.2zM140.12 70.7h2.2v1.3h-2.2zM144.36 70.7h2.2v1.3h-2.2zM148.60 70.7h2.2v1.3h-2.2zM152.84 70.7h2.2v1.3h-2.2zM157.08 70.7h2.2v1.3h-2.2zM161.32 70.7h2.2v1.3h-2.2zM165.56 70.7h2.2v1.3h-2.2zM169.80 70.7h2.2v1.3h-2.2zM174.04 70.7h2.2v1.3h-2.2zM178.28 70.7h2.2v1.3h-2.2zM182.52 70.7h2.2v1.3h-2.2zM186.76 70.7h2.2v1.3h-2.2zM191.00 70.7h2.2v1.3h-2.2zM195.24 70.7h2.2v1.3h-2.2zM199.48 70.7h2.2v1.3h-2.2zM203.72 70.7h2.2v1.3h-2.2zM207.96 70.7h2.2v1.3h-2.2zM212.20 70.7h2.2v1.3h-2.2zM216.44 70.7h2.2v1.3h-2.2zM220.68 70.7h2.2v1.3h-2.2zM224.92 70.7h2.2v1.3h-2.2zM229.16 70.7h2.2v1.3h-2.2zM233.40 70.7h2.2v1.3h-2.2zM237.64 70.7h2.2v1.3h-2.2zM241.88 70.7h2.2v1.3h-2.2zM246.12 70.7h2.2v1.3h-2.2zM250.36 70.7h2.2v1.3h-2.2zM254.60 70.7h2.2v1.3h-2.2zM258.84 70.7h2.2v1.3h-2.2zM263.08 70.7h2.2v1.3h-2.2zM267.32 70.7h2.2v1.3h-2.2zM271.56 70.7h2.2v1.3h-2.2zM275.80 70.7h2.2v1.3h-2.2zM280.04 70.7h2.2v1.3h-2.2zM284.28 70.7h2.2v1.3h-2.2zM288.52 70.7h2.2v1.3h-2.2zM292.76 70.7h2.2v1.3h-2.2zM297.00 70.7h2.2v1.3h-2.2zM301.24 70.7h2.2v1.3h-2.2zM305.48 70.7h2.2v1.3h-2.2zM309.72 70.7h2.2v1.3h-2.2zM313.96 70.7h2.2v1.3h-2.2zM318.20 70.7h2.2v1.3h-2.2zM322.44 70.7h2.2v1.3h-2.2zM326.68 70.7h2.2v1.3h-2.2zM330.92 70.7h2.2v1.3h-2.2zM335.16 70.7h2.2v1.3h-2.2zM339.40 70.7h2.2v1.3h-2.2zM343.64 70.7h2.2v1.3h-2.2zM347.88 70.7h2.2v1.3h-2.2zM352.12 70.7h2.2v1.3h-2.2zM356.36 70.7h2.2v1.3h-2.2zM360.60 70.7h2.2v1.3h-2.2zM364.84 70.7h2.2v1.3h-2.2zM369.08 70.7h2.2v1.3h-2.2zM373.32 70.7h2.2v1.3h-2.2zM377.56 70.7h2.2v1.3h-2.2zM381.80 70.7h2.2v1.3h-2.2zM386.04 70.7h2.2v1.3h-2.2zM390.28 70.7h2.2v1.3h-2.2zM394.52 70.7h2.2v1.3h-2.2zM398.76 70.7h2.2v1.3h-2.2zM403.00 70.7h2.2v1.3h-2.2zM407.24 70.7h2.2v1.3h-2.2zM411.48 70.7h2.2v1.3h-2.2zM415.72 70.7h2.2v1.3h-2.2zM419.96 70.7h2.2v1.3h-2.2zM424.20 70.7h2.2v1.3h-2.2zM428.44 70.7h2.2v1.3h-2.2zM432.68 70.7h2.2v1.3h-2.2zM436.92 70.7h2.2v1.3h-2.2zM441.16 70.7h2.2v1.3h-2.2zM445.40 70.7h2.2v1.3h-2.2zM449.64 70.7h2.2v1.3h-2.2zM453.88 70.7h2.2v1.3h-2.2zM458.12 70.7h2.2v1.3h-2.2zM462.36 70.7h2.2v1.3h-2.2zM466.60 70.7h2.2v1.3h-2.2zM470.84 70.7h2.2v1.3h-2.2z" fill="#ff0000"/>
<polyline points="0.0,298.3 9.1,300.6 15.2,303.6 21.2,306.7 30.3,307.9 36.4,308.2 45.5,306.7 57.6,306.2 66.7,306.7 71.2,305.2 78.8,301.4 86.4,296.8 90.0,293.8 97.8,288.0 103.6,281.2 111.4,270.5 119.1,261.7 128.8,252.0 138.5,241.4 143.3,236.5 150.0,228.5 156.1,218.8 162.1,212.8 168.2,208.5 174.3,205.5 180.3,203.7 186.4,200.6 192.5,197.0 200.0,191.5 207.1,188.8 219.3,182.2 230.0,177.3 240.9,174.5 251.8,173.8 260.0,170.5 268.2,166.8 275.5,162.3 280.9,160.7 290.0,159.1 298.5,156.1 305.0,152.1 310.0,148.2 315.2,144.5 322.0,139.4 330.5,133.4 339.0,123.2 347.5,112.2 356.0,101.1 361.1,96.0 365.0,92.6 373.8,84.7 379.3,80.5 385.3,76.2 391.4,72.0 395.7,70.5 401.7,70.5 404.8,71.4 410.0,74.8 415.0,78.2 420.5,82.7 425.9,86.8 433.2,92.1 438.6,94.1 445.9,95.7 452.3,97.7 457.7,97.7 463.2,97.3 467.7,95.5 471.4,94.1" fill="none" stroke="#1010ff" stroke-width="1.15" stroke-linejoin="round"/>
<path d="M-0.62 306.5V322.0 M4.10 306.6V333.0 M8.82 329.2V341.0 M13.54 334.5V350.3 M18.26 333.0V348.0 M22.98 314.7V333.5 M27.70 301.5V316.0 M32.42 297.6V309.0 M37.14 278.0V294.5 M41.86 273.8V289.0 M46.58 275.0V292.5 M51.30 269.5V294.5 M56.02 265.0V283.0 M60.74 285.5V314.0 M65.46 304.7V321.3 M70.18 290.0V306.5 M74.90 247.0V297.0 M79.62 223.8V251.0 M84.34 231.0V254.0 M89.06 221.5V250.6 M93.78 235.7V254.7 M98.50 229.0V252.0 M103.22 220.0V248.0 M107.94 214.3V226.0 M112.66 204.0V222.0 M117.38 193.0V217.0 M122.10 213.0V232.5 M126.82 189.0V211.0 M131.54 180.5V195.0 M136.26 187.3V204.7 M140.98 184.0V204.2 M145.70 157.0V176.0 M150.42 152.2V167.5 M155.14 164.0V177.4 M159.86 167.5V187.5 M164.58 181.6V198.0 M169.30 192.5V204.7 M174.02 184.0V196.0 M178.74 192.5V216.0 M183.46 201.3V218.8 M188.18 186.0V204.0 M192.90 171.4V186.8 M197.62 173.2V182.5 M202.34 162.0V176.7 M207.06 160.2V169.0 M211.78 162.0V180.6 M216.50 160.0V172.5 M221.22 140.0V155.0 M225.94 142.5V155.6 M230.66 137.0V148.5 M235.38 154.0V169.3 M240.10 157.5V174.5 M244.82 150.6V166.7 M249.54 146.3V160.0 M254.26 162.3V177.4 M258.98 155.5V171.0 M263.70 141.7V152.5 M268.42 146.8V157.0 M273.14 139.5V156.2 M277.86 140.5V233.9 M282.58 169.5V204.7 M287.30 160.5V180.3 M292.02 143.3V164.0 M296.74 126.7V140.7 M301.46 110.5V140.5 M306.18 97.0V113.1 M310.90 70.2V97.4 M315.62 86.1V107.1 M320.34 61.6V86.0 M325.06 50.1V75.7 M329.78 52.2V94.7 M334.50 67.0V91.8 M339.22 21.2V60.0 M343.94 6.2V47.0 M348.66 38.1V59.4 M353.38 27.5V58.0 M358.10 17.8V61.0 M362.82 43.0V64.4 M367.54 49.4V74.4 M372.26 72.0V117.5 M376.98 83.1V101.7 M381.70 87.1V110.7 M386.42 75.3V97.8 M391.14 71.1V91.4 M395.86 71.4V88.4 M400.58 77.0V101.7 M405.30 110.0V136.5 M410.02 134.0V150.1 M414.74 116.1V142.0 M419.46 147.0V166.3 M424.18 148.0V166.3 M428.90 126.0V147.0 M433.62 96.0V127.0 M438.34 64.5V95.0 M443.06 42.2V83.6 M447.78 66.0V81.5 M452.50 59.6V73.2 M457.22 63.0V70.7 M461.94 50.0V74.0 M466.66 46.6V65.2 M471.38 51.1V71.3" stroke="#000" stroke-width="1" fill="none"/>
<g fill="#fff" stroke="#000" stroke-width="0.9"><rect x="16.21" y="334.9" width="4.10" height="11.9" stroke="#666"/><rect x="21.73" y="315.1" width="2.50" height="15.1"/><rect x="25.85" y="304.10" width="3.7" height="3.30" rx="1.6"/><rect x="30.57" y="302.35" width="3.7" height="3.30" rx="1.6"/><rect x="35.89" y="284.4" width="2.50" height="9.6"/><rect x="50.05" y="283.4" width="2.50" height="9.9"/><rect x="68.93" y="293.9" width="2.50" height="11.1"/><rect x="73.65" y="248.0" width="2.50" height="47.6"/><rect x="83.09" y="231.8" width="2.50" height="20.7"/><rect x="97.25" y="231.8" width="2.50" height="19.0"/><rect x="101.97" y="230.1" width="2.50" height="7.6"/><rect x="106.09" y="222.70" width="3.7" height="3.30" rx="1.6"/><rect x="111.41" y="209.8" width="2.50" height="10.7"/><rect x="120.85" y="214.2" width="2.50" height="11.9"/><rect x="125.57" y="189.9" width="2.50" height="20.0"/><rect x="139.73" y="184.9" width="2.50" height="14.1"/><rect x="144.45" y="160.4" width="2.50" height="11.1"/><rect x="182.21" y="205.6" width="2.50" height="9.9"/><rect x="186.93" y="188.6" width="2.50" height="11.5"/><rect x="191.65" y="177.8" width="2.50" height="5.0"/><rect x="195.77" y="174.60" width="3.7" height="3.30" rx="1.6"/><rect x="201.09" y="164.4" width="2.50" height="10.6"/><rect x="215.25" y="160.6" width="2.50" height="5.9"/><rect x="219.37" y="151.50" width="3.7" height="3.30" rx="1.6"/><rect x="224.69" y="143.2" width="2.50" height="7.0"/><rect x="238.85" y="158.2" width="2.50" height="10.8"/><rect x="243.57" y="154.4" width="2.50" height="5.9"/><rect x="257.73" y="156.1" width="2.50" height="12.2"/><rect x="271.89" y="140.4" width="2.50" height="14.8"/><rect x="281.33" y="170.1" width="2.50" height="12.8"/><rect x="286.05" y="167.9" width="2.50" height="11.4"/><rect x="290.77" y="146.5" width="2.50" height="16.5"/><rect x="300.21" y="118.9" width="2.50" height="20.7"/><rect x="304.93" y="98.0" width="2.50" height="12.2"/><rect x="314.37" y="94.0" width="2.50" height="5.8"/><rect x="319.09" y="62.6" width="2.50" height="22.5"/><rect x="333.25" y="67.7" width="2.50" height="15.7"/><rect x="337.97" y="24.2" width="2.50" height="34.8"/><rect x="352.13" y="28.3" width="2.50" height="26.2"/><rect x="385.17" y="76.0" width="2.50" height="21.1"/><rect x="389.29" y="72.55" width="3.7" height="3.30" rx="1.6"/><rect x="422.93" y="148.8" width="2.50" height="4.2"/><rect x="427.65" y="126.8" width="2.50" height="19.5"/><rect x="432.37" y="97.0" width="2.50" height="29.1"/><rect x="437.09" y="65.2" width="2.50" height="28.9"/><rect x="446.53" y="66.9" width="2.50" height="13.8"/><rect x="455.37" y="62.65" width="3.7" height="3.30" rx="1.6"/></g>
<path d="M-2.32 308.8h3.4v10.9h-3.4zM2.40 311.0h3.4v21.6h-3.4zM7.12 333.5h3.4v7.0h-3.4zM11.84 342.0h3.4v5.5h-3.4zM40.16 279.2h3.4v3.3h-3.4zM44.88 280.2h3.4v7.5h-3.4zM54.32 277.2h3.4v5.1h-3.4zM59.04 286.0h3.4v27.5h-3.4zM63.76 309.5h3.4v5.0h-3.4zM77.92 233.1h3.4v17.5h-3.4zM87.36 222.0h3.4v22.5h-3.4zM92.08 240.8h3.4v10.2h-3.4zM115.68 197.2h3.4v19.5h-3.4zM129.84 185.2h3.4v9.3h-3.4zM134.56 194.1h3.4v4.4h-3.4zM148.72 157.8h3.4v9.4h-3.4zM153.44 168.0h3.4v7.7h-3.4zM158.16 170.6h3.4v16.5h-3.4zM162.88 183.7h3.4v14.1h-3.4zM167.60 193.8h3.4v2.4h-3.4zM172.32 190.0h3.4v5.5h-3.4zM177.04 195.0h3.4v20.4h-3.4zM205.36 164.8h3.4v3.4h-3.4zM210.08 170.4h3.4v2.9h-3.4zM228.96 145.8h3.4v2.2h-3.4zM233.68 156.0h3.4v7.3h-3.4zM247.84 153.1h3.4v6.3h-3.4zM252.56 165.7h3.4v9.5h-3.4zM262.00 149.2h3.4v2.8h-3.4zM266.72 149.7h3.4v6.8h-3.4zM276.16 141.0h3.4v30.2h-3.4zM295.04 137.3h3.4v2.9h-3.4zM309.20 89.3h3.4v1.7h-3.4zM323.36 63.2h3.4v4.3h-3.4zM328.08 67.2h3.4v19.0h-3.4zM342.24 22.1h3.4v24.5h-3.4zM346.96 46.8h3.4v5.8h-3.4zM356.40 21.6h3.4v24.1h-3.4zM361.12 43.1h3.4v20.9h-3.4zM365.84 57.5h3.4v8.7h-3.4zM370.56 72.2h3.4v20.0h-3.4zM375.28 88.0h3.4v6.7h-3.4zM380.00 95.0h3.4v1.8h-3.4zM394.16 80.2h3.4v6.1h-3.4zM398.88 77.2h3.4v19.5h-3.4zM403.60 110.2h3.4v19.5h-3.4zM408.32 138.2h3.4v3.4h-3.4zM413.04 136.0h3.4v5.6h-3.4zM417.76 147.6h3.4v5.9h-3.4zM441.36 51.2h3.4v24.7h-3.4zM450.80 65.6h3.4v4.3h-3.4zM460.24 55.4h3.4v7.6h-3.4zM464.96 54.0h3.4v4.8h-3.4zM469.68 56.2h3.4v14.8h-3.4z" fill="#000"/>
<line x1="-2" y1="359.6" x2="542.3" y2="84.3" stroke="#0000ff" stroke-width="1.85"/>
<line x1="343.5" y1="6.2" x2="566" y2="85" stroke="#ff0000" stroke-width="1.1"/>
<rect x="310.9" y="9.45" width="75.7" height="53.4" fill="none" stroke="#ff0000" stroke-width="1.6"/>
<path d="M618.5 0V399.7M0 399.1H619.1" stroke="#000" stroke-width="1.2" fill="none"/>
<path d="M9.1 399V404.5M103.4 399V404.5M198.3 399V404.5M301.2 399V404.5M400.8 399V404.5" stroke="#000" stroke-width="1" fill="none"/>
<text class="t" transform="translate(11.3,407.6) scale(0.92,1)" font-size="9.5" fill="#000" stroke="#000" stroke-width="0.15">April</text>
<text class="t" transform="translate(105.6,407.6) scale(0.92,1)" font-size="9.5" fill="#000" stroke="#000" stroke-width="0.15">May</text>
<text class="t" transform="translate(200.2,407.6) scale(0.92,1)" font-size="9.5" fill="#000" stroke="#000" stroke-width="0.15">Jun</text>
<text class="t" transform="translate(303.6,407.6) scale(0.92,1)" font-size="9.5" fill="#000" stroke="#000" stroke-width="0.15">Jul</text>
<text class="t" transform="translate(403.5,407.6) scale(0.92,1)" font-size="9.5" fill="#000" stroke="#000" stroke-width="0.15">August</text>
<text class="t" transform="translate(620.0,13.65) scale(0.86,1)" font-size="10.1" fill="#000" stroke="#000" stroke-width="0.15">680.0</text>
<text class="t" transform="translate(620.0,122.21) scale(0.86,1)" font-size="10.1" fill="#000" stroke="#000" stroke-width="0.15">640.0</text>
<text class="t" transform="translate(620.0,176.49) scale(0.86,1)" font-size="10.1" fill="#000" stroke="#000" stroke-width="0.15">620.0</text>
<text class="t" transform="translate(620.0,230.77) scale(0.86,1)" font-size="10.1" fill="#000" stroke="#000" stroke-width="0.15">600.0</text>
<text class="t" transform="translate(620.0,285.05) scale(0.86,1)" font-size="10.1" fill="#000" stroke="#000" stroke-width="0.15">580.0</text>
<text class="t" transform="translate(620.0,339.33) scale(0.86,1)" font-size="10.1" fill="#000" stroke="#000" stroke-width="0.15">560.0</text>
<text class="t" transform="translate(620.0,393.61) scale(0.86,1)" font-size="10.1" fill="#000" stroke="#000" stroke-width="0.15">540.0</text>
<rect x="619" y="55" width="41" height="9.3" fill="#d4d4d4"/>
<text class="t" transform="translate(620.5,63.20) scale(0.93,1)" font-size="9.6" fill="#000" stroke="#000" stroke-width="0.15">109,773,100</text>
<rect x="619" y="65.3" width="30.6" height="10.9" fill="#000"/>
<text class="t" transform="translate(622.2,74.50) scale(0.9,1)" font-size="9.5" fill="#fff" stroke="#fff" stroke-width="0.15">657.68</text>
<rect x="619" y="89.5" width="35.7" height="10.3" fill="#0000ff"/>
<text class="t" transform="translate(622.2,97.90) scale(0.9,1)" font-size="9.5" fill="#fff" stroke="#fff" stroke-width="0.15">648.961</text>
</svg></div></body></html>
